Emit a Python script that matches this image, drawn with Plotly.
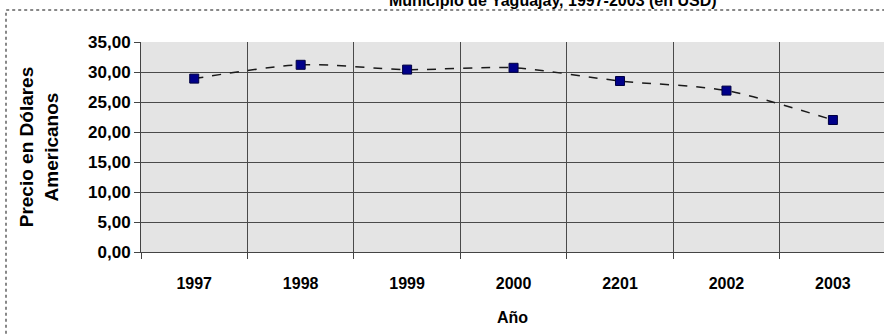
import plotly.graph_objects as go

# Average price per year (USD)
years = ["1997", "1998", "1999", "2000", "2201", "2002", "2003"]
prices = [28.9, 31.2, 30.4, 30.7, 28.5, 26.9, 22.0]
y_ticks = [0, 5, 10, 15, 20, 25, 30, 35]
y_tick_labels = ["0,00", "5,00", "10,00", "15,00", "20,00", "25,00", "30,00", "35,00"]

title_text = "Municipio de Yaguajay, 1997-2003 (en USD)"
x_title = "Año"
y_title = "Precio en Dólares<br>Americanos"

font_family = "Liberation Sans, Arial, sans-serif"
pos = list(range(len(years)))
boundaries = [p - 0.5 for p in pos] + [len(years) - 0.5]

fig = go.Figure()
fig.add_trace(go.Scatter(
    x=pos, y=prices, mode="lines+markers",
    line=dict(color="#1a1a1a", width=1.5, dash="dash", shape="spline", smoothing=0.8),
    marker=dict(symbol="square", size=9, color="#00008a",
                line=dict(color="#000040", width=1)),
    showlegend=False, hoverinfo="y",
))

fig.update_layout(
    width=884, height=334,
    margin=dict(l=141, r=0, t=42, b=82),
    paper_bgcolor="white",
    plot_bgcolor="#e4e4e4",
    font=dict(family=font_family, size=16, color="black"),
    xaxis=dict(
        range=[-0.5, 6.48],
        tickmode="array", tickvals=pos, ticktext=years,
        ticks="", showgrid=False, zeroline=False,
        showline=True, linecolor="#444444", linewidth=1,
        tickfont=dict(family=font_family, size=16, color="black", weight="bold"),
        ticklabelstandoff=17,
        minor=dict(tickmode="array", tickvals=boundaries, showgrid=True,
                   gridcolor="#4a4a4a", gridwidth=1,
                   ticks="outside", ticklen=6, tickcolor="#444444"),
        title=dict(text="<b>%s</b>" % x_title, standoff=20,
                   font=dict(family=font_family, size=16, color="black")),
    ),
    yaxis=dict(
        range=[0, 35],
        tickmode="array", tickvals=y_ticks, ticktext=y_tick_labels,
        ticks="outside", ticklen=6, tickcolor="#444444",
        showgrid=True, gridcolor="#4a4a4a", gridwidth=1, zeroline=False,
        showline=True, linecolor="#444444", linewidth=1,
        tickfont=dict(family=font_family, size=17, color="black", weight="bold"),
        title=dict(text="<b>%s</b>" % y_title, standoff=24,
                   font=dict(family=font_family, size=19, color="black")),
    ),
)

# Outer chart frame (dotted), running off the right and bottom edges
fig.add_shape(type="rect", xref="paper", yref="paper",
              x0=-135 / 743, x1=1.2, y0=-0.6, y1=1 + 32 / 210,
              line=dict(color="#888888", width=2, dash="dot"), layer="below")

# Chart title, running off the top of the page
fig.add_annotation(text="<b>%s</b>" % title_text, xref="paper", yref="paper",
                   x=(553 - 141) / 743, y=1 + 42 / 210, xanchor="center", yanchor="middle",
                   showarrow=False, font=dict(family=font_family, size=16, color="black"))

fig.write_html("out.html")
